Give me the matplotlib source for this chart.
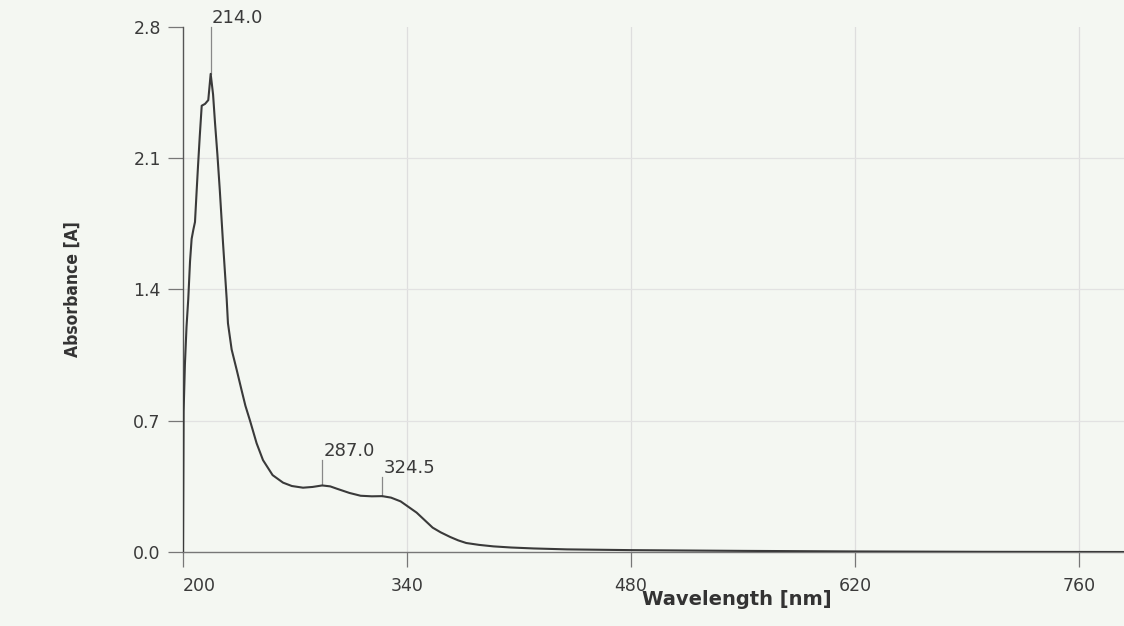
import matplotlib
matplotlib.use("Agg")
import matplotlib.pyplot as plt
import numpy as np

# Data
wavelength = [200.0, 200.4, 201.2, 202.2, 203.3, 204.4, 205.4, 206.5, 207.5, 208.5,
              209.4, 210.5, 211.7, 213.8, 215.8, 217.3, 218.8, 220.0, 221.5, 223.0,
              225.0, 227.3, 228.1, 230.4, 233.6, 236.7, 239.0, 241.9, 246.0, 250.0,
              256.0, 262.5, 268.0, 275.0, 281.0, 287.0, 292.0, 296.0, 304.0, 311.0,
              318.0, 324.5, 330.0, 336.0, 341.0, 346.0, 351.0, 356.0, 361.0, 367.0,
              372.0, 377.0, 385.0, 394.0, 405.0, 419.0, 440.0, 480.0, 550.0, 620.0,
              700.0, 790.0]
absorbance = [0.00, 0.75, 1.00, 1.20, 1.35, 1.55, 1.67, 1.72, 1.76, 1.92,
              2.06, 2.22, 2.38, 2.39, 2.41, 2.55, 2.44, 2.29, 2.12, 1.93,
              1.65, 1.35, 1.22, 1.08, 0.97, 0.86, 0.78, 0.70, 0.58, 0.49,
              0.41, 0.37, 0.352, 0.343, 0.347, 0.355, 0.350, 0.338, 0.315, 0.300,
              0.297, 0.298, 0.290, 0.270, 0.240, 0.210, 0.170, 0.130, 0.105, 0.080,
              0.062, 0.048, 0.038, 0.030, 0.024, 0.019, 0.014, 0.010, 0.006, 0.003,
              0.001, 0.000]

peak_x = [217.3, 287.0, 324.5]
peak_y = [2.55, 0.355, 0.298]
peak_labels = ["214.0", "287.0", "324.5"]
peak_text_y = [2.80, 0.49, 0.40]

x_ticks = [200, 340, 480, 620, 760]
y_ticks = [0.0, 0.7, 1.4, 2.1, 2.8]
y_tick_labels = ["0.0", "0.7", "1.4", "2.1", "2.8"]

bg = "#f4f7f2"
fig = plt.figure(figsize=(11.24, 6.26), dpi=100, facecolor=bg)
ax = fig.add_axes([0.1628, 0.1182, 0.8372, 0.8387], facecolor=bg)

ax.plot(wavelength, absorbance, color="#3a3a3a", lw=1.5, zorder=3)

ax.set_xlim(200, 788)
ax.set_ylim(0, 2.8)
ax.set_xticks(x_ticks)
ax.set_yticks(y_ticks)
ax.set_yticklabels(y_tick_labels)
ax.tick_params(axis="both", direction="out", length=11, width=0.9, color="#777777",
               labelsize=12.5, labelcolor="#3a3a3a")
ax.tick_params(axis="x", pad=7)
ax.tick_params(axis="y", pad=5)
ax.get_xticklabels()[0].set_horizontalalignment("left")

for x in x_ticks[1:]:
    ax.axvline(x, color="#dedede", lw=0.9, zorder=1)
for y in y_ticks[1:4]:
    ax.axhline(y, color="#e2e2e2", lw=0.9, zorder=1)

for s in ["top", "right"]:
    ax.spines[s].set_visible(False)
ax.spines["left"].set_color("#555555")
ax.spines["bottom"].set_color("#777777")
ax.spines["left"].set_linewidth(1.0)
ax.spines["bottom"].set_linewidth(1.0)

for px, py, lab, ty in zip(peak_x, peak_y, peak_labels, peak_text_y):
    ax.plot([px, px], [py, ty], color="#888888", lw=0.9, zorder=2, clip_on=False)
    ax.text(px + 0.8, ty, lab, fontsize=13, color="#3a3a3a", ha="left", va="bottom",
            clip_on=False)

ax.set_xlabel("Wavelength [nm]", fontsize=14, fontweight="bold", color="#333333")
ax.xaxis.set_label_coords(0.589, -0.072)
ax.set_ylabel("Absorbance [A]", fontsize=12.5, fontweight="bold", color="#333333",
              family="DejaVu Sans", fontstretch="condensed")
ax.yaxis.set_label_coords(-0.108, 0.5)

fig.savefig("out.png", dpi=100, facecolor=bg)
